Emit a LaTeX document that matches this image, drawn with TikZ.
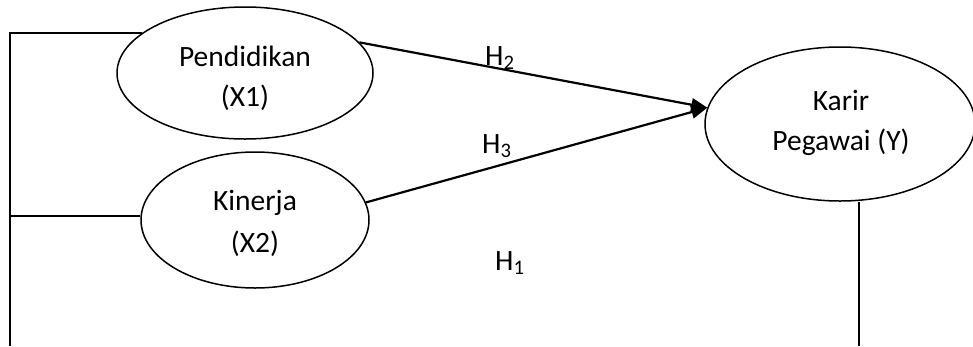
\documentclass[tikz,border=0pt]{standalone}
\usepackage{fontspec}
\setmainfont{Carlito}
\usetikzlibrary{arrows.meta,shapes.geometric}
\begin{document}
\begin{tikzpicture}[x=1pt,y=-1pt,
  var/.style={draw, ellipse, line width=1.5pt, inner sep=0pt},
  lbl/.style={anchor=base, inner sep=0pt, font=\fontsize{29.5}{35}\selectfont},
  hyp/.style={lbl, anchor=base west},
  effect/.style={line width=2.2pt, -{Triangle[length=16pt,width=13pt]}},
  link/.style={line width=1.6pt},
]
\useasboundingbox (0,0) rectangle (973,346);

% latent variables
\node[var, minimum width=256pt, minimum height=132pt] (x1) at (245,73) {};
\node[var, minimum width=228pt, minimum height=136pt] (x2) at (255,220) {};
\node[var, minimum width=270pt, minimum height=154pt] (y)  at (840,124) {};

% variable names
\node[lbl] (x1a) at (245,66)  {Pendidikan};
\node[lbl] (x1b) at (245,106) {(X1)};
\node[lbl] (x2a) at (255,210) {Kinerja};
\node[lbl] (x2b) at (255,252) {(X2)};
\node[lbl] (ya)  at (841,110) {Karir};
\node[lbl] (yb)  at (841,150) {Pegawai (Y)};

% hypothesised effects
\draw[effect] (x1.15) -- (y.173);
\draw[effect] (x2.9)  -- (y.173);

\node[hyp] (h2) at (485,65)  {H\textsubscript{2}};
\node[hyp] (h3) at (482,153) {H\textsubscript{3}};
\node[hyp] (h1) at (495,270) {H\textsubscript{1}};

% path of H1 running along the left and bottom
\coordinate (lb) at (10,346);
\coordinate (rb) at (859,346);
\draw[link] (x1.159) -| (lb);
\draw[link] (x2.178) -- (x2.178 -| lb);
\draw[link, line width=1.1pt] (rb |- y.south) -- (rb);
\end{tikzpicture}
\end{document}
